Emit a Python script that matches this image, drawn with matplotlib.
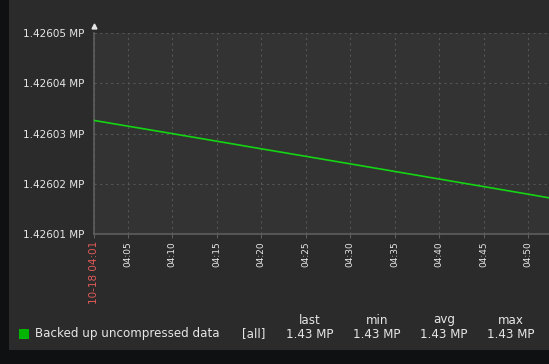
"""
备份数据量曲线（仿 Zabbix 深色主题）
"""
import numpy as np
import matplotlib
matplotlib.use('Agg')
import matplotlib.pyplot as plt
from matplotlib.patches import Rectangle
from matplotlib.ticker import FuncFormatter

plt.rcParams['font.family'] = ['DejaVu Sans']

# 时间（04:00 之后的分钟数）与数值（MP）
minutes = [1.22, 10, 20, 30, 40, 50, 52.33]
values = [1.4260326, 1.42602998, 1.42602696, 1.42602396, 1.42602094, 1.42601792, 1.4260172]

x_ticks = [1.22, 5, 10, 15, 20, 25, 30, 35, 40, 45, 50]
x_labels = ['10-18 04:01', '04:05', '04:10', '04:15', '04:20', '04:25',
            '04:30', '04:35', '04:40', '04:45', '04:50']
y_ticks = [1.42601, 1.42602, 1.42603, 1.42604, 1.42605]

legend_name = 'Backed up uncompressed data'
stat_names = ['last', 'min', 'avg', 'max']
stat_values = ['1.43 MP', '1.43 MP', '1.43 MP', '1.43 MP']

W, H = 549, 364
fig = plt.figure(figsize=(W / 100, H / 100), dpi=100)
fig.patch.set_facecolor('#0f1012')
bg = Rectangle((9 / W, 14 / H), 1 - 9 / W, 1 - 14 / H,
               transform=fig.transFigure, facecolor='#2b2b2b',
               edgecolor='none', zorder=-10)
fig.add_artist(bg)

ax = fig.add_axes([94 / W, (H - 234) / H, (W - 94) / W, 201 / H])
ax.set_zorder(2)
ax.set_facecolor('#333333')
ax.plot(minutes, values, color='#14d414', linewidth=1.2, zorder=3)
ax.set_xlim(1.22, 52.33)
ax.set_ylim(1.42601, 1.42605)

for s in ['top', 'right']:
    ax.spines[s].set_visible(False)
for s in ['left', 'bottom']:
    ax.spines[s].set_color('#5e5e5e')
    ax.spines[s].set_linewidth(1.2)

ax.set_yticks(y_ticks)
ax.yaxis.set_major_formatter(FuncFormatter(lambda v, p: '%.5f MP' % v))
ax.set_xticks(x_ticks)
ax.set_xticklabels(x_labels, rotation=90)
ax.tick_params(axis='y', colors='#e6e6e6', labelsize=7.5, length=0, pad=6.8)
ax.tick_params(axis='x', colors='#e6e6e6', labelsize=6.5, length=3, pad=2,
               color='#5e5e5e')
lbl = ax.get_xticklabels()
lbl[0].set_color('#e05a5a')
lbl[0].set_fontsize(7.5)
ax.grid(True, color='#555555', linestyle=(0, (2, 3)), linewidth=0.8)

# 轴顶端小箭头
ax.plot([0], [1.035], marker='^', color='#e6e6e6', markersize=3.5,
        transform=ax.transAxes, clip_on=False)

# 图例
fig.add_artist(Rectangle((19 / W, 1 - 339 / H), 10 / W, 10 / H,
                         transform=fig.transFigure, facecolor='#00b400',
                         edgecolor='none', zorder=3))
ty = 1 - 334 / H
fs = 8.6
fig.text(35 / W, ty, legend_name, color='#e6e6e6', fontsize=fs, va='center')
fig.text(254 / W, ty, '[all]', color='#e6e6e6', fontsize=fs, va='center', ha='center')
for cx, name, val in zip([310, 377, 444, 511], stat_names, stat_values):
    fig.text(cx / W, 1 - 320 / H, name, color='#e6e6e6', fontsize=fs,
             va='center', ha='center')
    fig.text(cx / W, ty, val, color='#e6e6e6', fontsize=fs, va='center', ha='center')

fig.savefig('out.png', dpi=100, facecolor=fig.get_facecolor())
